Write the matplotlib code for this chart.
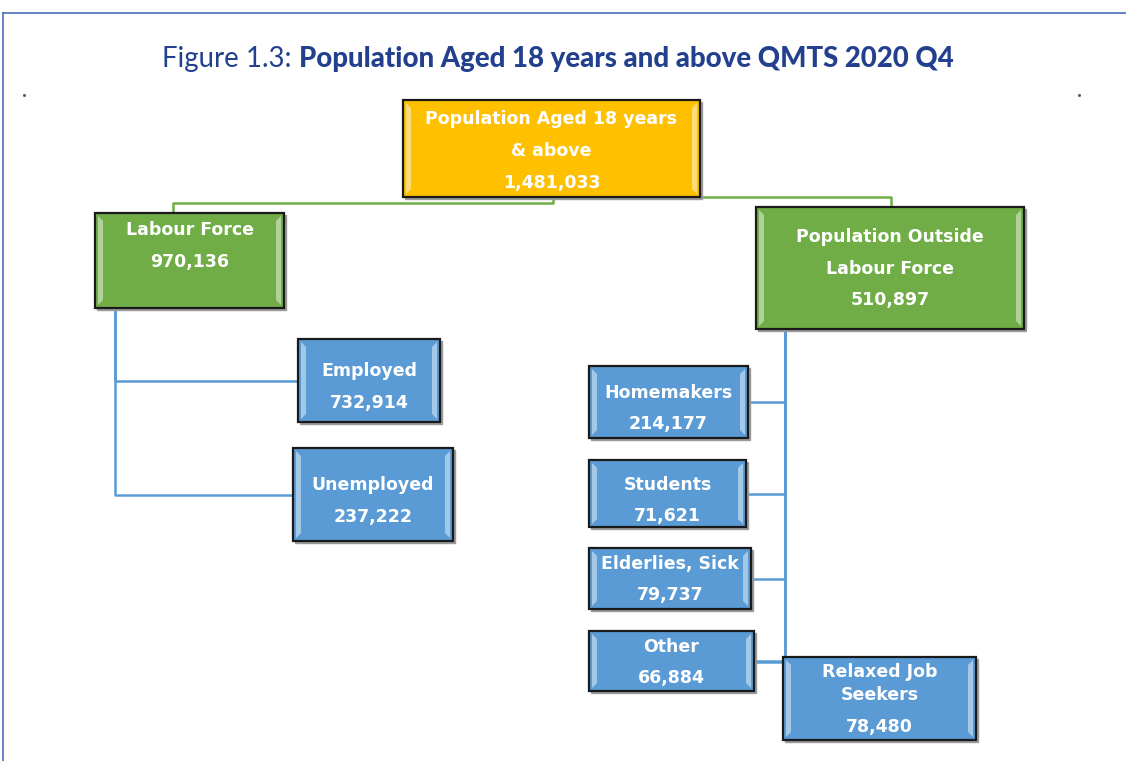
import matplotlib.pyplot as plt
from matplotlib.patches import Rectangle, Polygon

# data
box_names = ["root", "labour", "outside", "employed", "unemployed",
             "homemakers", "students", "elderly", "other", "relaxed"]
box_labels = [["Population Aged 18 years", "& above"],
              ["Labour Force"],
              ["Population Outside", "Labour Force"],
              ["Employed"],
              ["Unemployed"],
              ["Homemakers"],
              ["Students"],
              ["Elderlies, Sick"],
              ["Other"],
              ["Relaxed Job", "Seekers"]]
box_values = [1481033, 970136, 510897, 732914, 237222,
              214177, 71621, 79737, 66884, 78480]
parents = [None, "root", "root", "labour", "labour",
           "outside", "outside", "outside", "outside", "outside"]
title_a = "Figure 1.3: "
title_b = "Population Aged 18 years and above QMTS 2020 Q4"

# layout in pixels (x0, y0, x1, y1), y going down
layout = {
    "root": (403, 100, 700, 197),
    "labour": (95, 213, 284, 308),
    "outside": (756, 207, 1024, 329),
    "employed": (298, 339, 440, 422),
    "unemployed": (293, 448, 453, 541),
    "homemakers": (589, 366, 748, 438),
    "students": (589, 460, 746, 527),
    "elderly": (589, 548, 751, 609),
    "other": (589, 631, 754, 691),
    "relaxed": (783, 657, 976, 740),
}
line_y = {
    "root": [119, 151, 183],
    "labour": [230, 262],
    "outside": [237, 269, 300],
    "employed": [371, 403],
    "unemployed": [485, 517],
    "homemakers": [393, 424],
    "students": [485, 516],
    "elderly": [564, 595],
    "other": [647, 678],
    "relaxed": [672, 695, 727],
}
fill = {"root": "#FFC000", "labour": "#70AD47", "outside": "#70AD47"}
blue = "#5B9BD5"
green_line = "#70AD47"
blue_line = "#5B9BD5"
title_color = "#22408E"

fig = plt.figure(figsize=(11.26, 7.61), dpi=100)
ax = fig.add_axes([0, 0, 1, 1])
ax.set_xlim(0, 1126)
ax.set_ylim(761, 0)
ax.axis("off")

# frame
ax.plot([3, 1126], [13, 13], color="#4A6FB5", lw=1.2)
ax.plot([3, 3], [13, 761], color="#4A6FB5", lw=1.2)
ax.plot([24], [95], marker="s", ms=1, color="#555555")
ax.plot([1079], [95], marker="s", ms=1, color="#555555")

# title, two weights side by side, sized to span x 162..953
fs = 21
t1 = ax.text(162, 59, title_a, fontsize=fs, color=title_color,
             family="Lato", fontweight="normal", va="center", ha="left")
t2 = ax.text(400, 59, title_b, fontsize=fs, color=title_color,
             family="Lato", fontweight="black", va="center", ha="left")
fig.canvas.draw()
w_total = t1.get_window_extent().width + t2.get_window_extent().width
fs = fs * (953 - 162) / w_total
t1.set_fontsize(fs)
t2.set_fontsize(fs)
fig.canvas.draw()
x_next = t1.get_window_extent().x1
t2.set_x(ax.transData.inverted().transform((x_next, 0))[0])

# connectors
r = layout["root"]
lf = layout["labour"]
po = layout["outside"]
ax.plot([553, 553, 173, 173], [r[3], 203, 203, lf[1]], color=green_line, lw=1.8, zorder=1)
ax.plot([r[2], 891, 891], [197, 197, po[1]], color=green_line, lw=1.8, zorder=1)

for name, par in zip(box_names, parents):
    if par == "labour":
        b = layout[name]
        ym = (b[1] + b[3]) / 2
        ax.plot([115, 115, b[0]], [lf[3], ym, ym], color=blue_line, lw=1.8, zorder=1)
    elif par == "outside":
        b = layout[name]
        if name == "relaxed":
            ax.plot([785, 785], [po[3], b[1]], color=blue_line, lw=1.8, zorder=1)
        else:
            ym = (b[1] + b[3]) / 2
            ax.plot([785, 785, b[2]], [po[3], ym, ym], color=blue_line, lw=1.8, zorder=1)
ax.plot([754, 785], [662, 662], color=blue_line, lw=1.8, zorder=1)


def draw_box(name, lines, value):
    x0, y0, x1, y1 = layout[name]
    w, h = x1 - x0, y1 - y0
    c = fill.get(name, blue)
    ax.add_patch(Rectangle((x0 + 2, y0 + 2), w, h, color="#9a9a9a", zorder=2))
    ax.add_patch(Rectangle((x0, y0), w, h, facecolor=c, edgecolor="#1a1a1a", lw=1.6, zorder=3))
    # bevel highlights
    d = 8
    for xs in ([x0 + 3, x0 + d, x0 + d, x0 + 3], [x1 - 3, x1 - d, x1 - d, x1 - 3]):
        ax.add_patch(Polygon(list(zip(xs, [y0 + 3, y0 + d, y1 - d, y1 - 3])),
                             closed=True, facecolor="white", alpha=0.45, lw=0, zorder=4))
    texts = lines + [f"{value:,}"]
    for s, yy in zip(texts, line_y[name]):
        ax.text((x0 + x1) / 2, yy, s, color="white", fontsize=12.5, fontweight="bold",
                ha="center", va="center", family="DejaVu Sans", zorder=5)


for name, lines, value in zip(box_names, box_labels, box_values):
    draw_box(name, lines, value)

fig.savefig("out.png", dpi=100)
